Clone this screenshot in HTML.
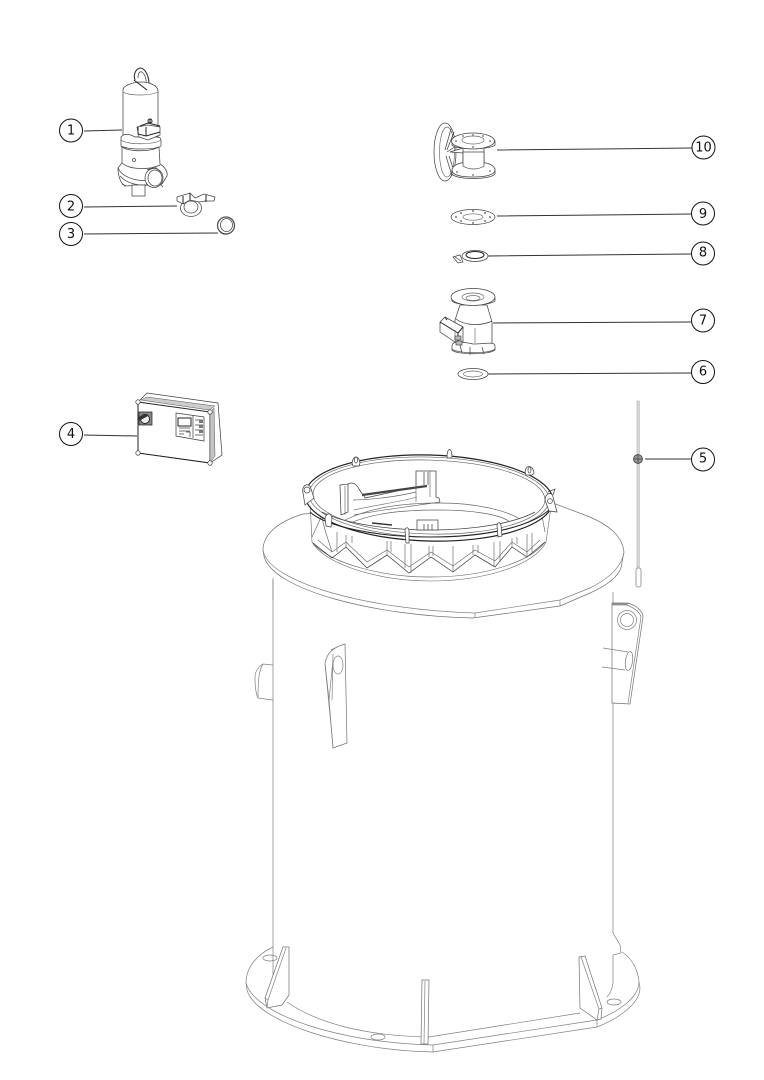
<!DOCTYPE html>
<html><head><meta charset="utf-8"><style>
html,body{margin:0;padding:0;background:#fff}
svg{display:block}
.t{fill:none;stroke:#808080;stroke-width:.7}
.w{fill:#fff;stroke:#707070;stroke-width:.7}
.m{fill:none;stroke:#444;stroke-width:.75}
.s{fill:none;stroke:#666;stroke-width:.65}
.mw{fill:#fff;stroke:#444;stroke-width:.75}
.d{fill:none;stroke:#222;stroke-width:1}
.l{fill:none;stroke:#333;stroke-width:1}
.c{fill:#fff;stroke:#111;stroke-width:1}
text{font-family:"DejaVu Sans",sans-serif;font-size:13px;fill:#111;text-anchor:middle}
</style></head><body>
<svg width="764" height="1080" viewBox="0 0 764 1080" xmlns="http://www.w3.org/2000/svg">
<!-- base plate -->
<path class="t" d="M273 947C256 955 246 968 246 983L247 990C255 1020 340 1050 433 1052L597 1027C620 1018 640 1003 640 988L639 982C638 970 632 958 622 952"/>
<path class="t" d="M246 983C255 1015 340 1043 433 1045L597 1020C620 1011 639 997 639 982"/>
<path class="t" d="M287 1002C320 1025 370 1036 429 1037L580 1013"/>
<path class="t" d="M433 1045V1052M597 1020V1027"/>
<ellipse class="t" cx="270" cy="958" rx="7" ry="3"/>
<ellipse class="t" cx="378" cy="1037" rx="7" ry="3"/>
<ellipse class="t" cx="614" cy="1002" rx="7" ry="3"/>
<!-- cylinder -->
<path class="t" d="M273 578V1002"/>
<path class="t" d="M613 592V933L620 945L621 953L613 955V983C612 990 610 994 607 997"/>
<!-- ribs -->
<path class="w" d="M283 947L289 947L289 995L282 1005L267 1008L265 998Z"/>
<path class="t" d="M286 948L268 1000L265 998M268 1000L267 1008"/>
<path class="w" d="M422 980H429L428 1044H421Z"/>
<path class="t" d="M425 981L424 1044"/>
<path class="w" d="M579 957L585 956L602 1008L601 1019L597 1020L580 1008Z"/>
<path class="t" d="M581 957L599 1009L597 1020M599 1009L602 1008"/>
<!-- top plate -->
<path class="w" d="M303 514C277 522 263 535 263 550L264 556C272 590 375 616 473 618L560 606L590 593C610 584 622 574 622 562L624 552C622 535 608 525 590 517L545 500L303 514Z"/>
<path class="t" d="M263 550C268 583 370 610 475 613L560 600L590 588C610 578 622 566 624 552"/>
<path class="t" d="M475 613V618M560 600V606"/>
<path class="t" d="M273 580V600"/>
<!-- ring skirt -->
<path fill="#fff" stroke="#666" stroke-width=".6" d="M310 500L312 542C325 565 380 581 430 581C485 581 535 565 546 542L552 500Z"/>
<path class="s" d="M313 543C330 563 380 577 430 577C485 577 530 562 545 542"/>
<path class="m" d="M313 543L332 558L346 547L367 568L387 555L409 573L431 557L453 572L475 555L495 567L512 547L527 557L545 542"/>
<path class="s" d="M318 540L332 552L346 542L367 562L387 550L409 567L431 552L453 566L475 550L495 561L512 542L527 552L540 540"/>
<path class="s" d="M337 532V552M346 535V547M352 536V543M387 541V555M391 541V552M405 544V568M411 544V573M429 546V557M433 546V556M453 546V572M473 545V555M478 545V553M494 542V567M500 541V562M512 538V547M517 537V544M527 534V557M532 533V552"/>
<path class="s" d="M320 510L325 530L332 552M322 515L312 537M540 505L545 532"/>
<!-- ring -->
<ellipse fill="#fff" stroke="#222" stroke-width="1.2" cx="429" cy="498" rx="124" ry="43" transform="rotate(1.5 429 498)"/>
<ellipse class="s" cx="429" cy="497" rx="120" ry="40" transform="rotate(1.5 429 497)"/>
<ellipse class="s" cx="429" cy="497" rx="116" ry="37" transform="rotate(1.5 429 497)"/>
<path class="d" d="M310 512C325 526 375 537 430 537C485 537 530 527 549 510" />
<path class="m" d="M322 512C345 524 390 530 430 530C475 530 515 523 535 512"/>
<!-- inner bracket -->
<path class="mw" d="M340 485L348 484L348 512L341 515Z"/>
<path class="m" d="M348 484C352 482 356 483 359 489C362 494 365 497 365 498L416 487V471H436V497L439 498L440 502"/>
<path class="s" d="M345 486V515M353 500C372 500 400 496 416 492M354 510C375 505 400 502 417 497M354 515C380 510 420 505 440 502"/>
<path fill="none" stroke="#444" stroke-width="2.2" d="M362 495L427 486"/>
<path class="m" d="M424 472V485M428 472V485"/>
<path class="s" d="M416 471V502M430 471V497"/>
<path class="s" d="M345 520C370 508 400 503 440 503C475 503 505 510 520 519M350 523C375 513 400 510 440 510C470 510 500 514 510 522"/>
<path class="mw" d="M417 520H438V530H417Z"/>
<path class="m" d="M424 524V530M428 524V530M432 524V530"/>
<path fill="none" stroke="#333" stroke-width="1.4" d="M372 523L392 525"/>
<!-- ring lugs -->
<path class="mw" d="M303 493C301 484 310 482 311 489L314 498L305 505Z"/>
<circle class="m" cx="307" cy="490" r="3"/>
<path class="mw" d="M352 463C353 455 359 455 360 463L359 466H353Z"/>
<ellipse class="m" cx="356" cy="460" rx="1.500" ry="3"/>
<path class="mw" d="M447 457C447 447 452 447 452 457L451 458H448Z"/>
<path class="mw" d="M525 472C526 464 533 465 534 473L532 475H526Z"/>
<ellipse class="m" cx="529.500" cy="470" rx="1.500" ry="3"/>
<path class="mw" d="M545 500C545 493 552 491 553 497L557 512L549 511Z"/>
<circle class="m" cx="550" cy="501" r="2.4"/>
<path class="m" d="M548 492L555 489L553 495"/>
<path class="mw" d="M325 518C327 512 331 513 332 518L331 527L326 526Z"/>
<path class="mw" d="M405 530C406 527 408 527 409 530L409 543H406Z"/>
<path class="mw" d="M497 525C498 522 500 522 501 525L502 536L498 537Z"/>
<!-- plate lug left -->
<path class="w" d="M325 663C327 654 331 648 345 644L347 743L333 748L329 700Z"/>
<path class="t" d="M333 746L325 664M331 650L335 648M333 660L329 700M333 654L332 700"/>
<ellipse class="t" cx="338" cy="665" rx="5" ry="9"/>
<path class="t" d="M273 665L263 664C258 667 255 672 255 677C255 686 256 694 258 698L273 700"/>
<path class="t" d="M263 664C259 670 258 680 258 698"/>
<!-- plate lug right -->
<path class="w" d="M612 603H627C637 605 643 612 643 617L630 704L612 703Z"/>
<path class="t" d="M612 605H627C634 608 640 612 641 617L628 703"/>
<path fill="none" stroke="#888" stroke-width="1.2" d="M612 604H628"/>
<circle class="t" cx="627" cy="620" r="9.5"/>
<circle class="t" cx="627" cy="620" r="6.5"/>
<path class="t" d="M603 648L628 652M602 667L625 670"/>
<ellipse class="w" cx="629" cy="661" rx="3.6" ry="9.5" transform="rotate(8 629 661)"/>
<!-- item 5 probe -->
<rect x="637" y="401" width="2.2" height="166" fill="#ddd" stroke="#999" stroke-width=".5"/>
<rect x="636" y="568" width="5" height="19" rx="2" fill="#fff" stroke="#777" stroke-width=".7"/>
<circle cx="638" cy="459" r="4.4" fill="#999" stroke="#333" stroke-width=".8"/>
<path class="m" d="M633 459H643M638 455V463"/>
<!-- item 1 pump -->
<path fill="none" stroke="#333" stroke-width="1.1" d="M135 80C133 74 136 69 140 68C145 68 150 76 149 89"/>
<path class="m" d="M138 78C138 73 140 71 142 72C145 74 147 80 146 87"/>
<path class="mw" d="M123 90C123 85 135 82 141 82C148 82 158 85 158 91V137H123Z"/>
<path class="s" d="M123 92C130 96 150 96 158 92"/>
<path class="d" d="M134 80L147 90"/>
<path class="mw" d="M121 137C124 133 130 134 135 137H156C160 137 161 138 161 141V146C155 150 128 150 121 146Z"/>
<path class="s" d="M121 140C128 145 153 145 161 140"/>
<path class="mw" d="M122 147C130 152 150 152 159 147L160 164C165 167 168 172 167 176L162 184L125 186C120 183 118 175 118 168L122 163Z"/>
<path class="m" d="M118 168C123 180 145 182 150 180M120 176C127 184 140 186 148 185M122 163C130 170 150 170 160 165"/>
<rect class="mw" x="132" y="185" width="13" height="11"/>
<path class="mw" d="M137 127L148 125L160 127L160 135L148 140L139 137Z"/>
<path class="d" d="M138 127V134L146 136L160 132M146 127V136M140 126L148 123L160 126"/>
<path class="d" d="M150 119V124"/>
<circle class="d" cx="150" cy="121" r="2"/>
<ellipse class="mw" cx="154" cy="178" rx="9" ry="9.500"/>
<ellipse class="m" cx="155" cy="178" rx="7" ry="8"/>
<path class="m" d="M147 170L155 167L161 172M122 184L126 186M160 184L163 187"/>
<circle class="m" cx="134" cy="160" r="1.5"/>
<!-- item 2 -->
<ellipse class="m" cx="191" cy="208" rx="10.500" ry="8.500"/>
<ellipse class="m" cx="191" cy="207" rx="7" ry="6"/>
<path class="mw" d="M177 197L190 193L195 198L204 194L215 197L214 201L205 201L199 202L190 200L183 204L177 201Z"/>
<path class="d" d="M183 196V204M206 195V202M190 193V200"/>
<!-- item 3 -->
<circle cx="226" cy="225.500" r="8.500" fill="#fff" stroke="#555" stroke-width="1.3"/>
<ellipse class="m" cx="226.500" cy="225" rx="6" ry="6.500"/>
<path class="m" d="M219 230C220 233 224 235 227 234"/>
<!-- item 4 box -->
<path class="mw" d="M138 402L147 393L218 403L222 455L210 463L138 453Z"/>
<path class="d" d="M138 402L210 412L210 463L138 453Z"/>
<path fill="#ccc" stroke="#555" stroke-width=".5" d="M141 400L147 397L215 406L209 410Z"/>
<path fill="#c4c4c4" stroke="#555" stroke-width=".5" d="M210 412L214 408L215 456L210 463Z"/>
<circle class="mw" cx="138" cy="402" r="2.200"/><circle class="mw" cx="210" cy="412" r="2.200"/><circle class="mw" cx="138" cy="453" r="2.200"/><circle class="mw" cx="210" cy="463" r="2.200"/>
<path fill="#888" stroke="#222" stroke-width=".7" d="M139 412H152V425H139Z"/>
<circle cx="145" cy="419" r="4.500" fill="#eee" stroke="#222" stroke-width=".9"/>
<path fill="#333" d="M138 417L147 414L148 416L139 421Z"/>
<path class="m" d="M176 413L204 417L204 441L176 436Z"/>
<rect x="178" y="418" width="13" height="8" fill="#fff" stroke="#222" stroke-width="1"/>
<path class="m" d="M193 415V438M195 420H203M195 425H203M195 430H203M195 435H203"/>
<path fill="#777" d="M199 420h4v3h-4zM199 425h4v3h-4zM199 430h4v3h-4z"/>
<path class="m" d="M179 428h11M179 431h11M179 434h5M186 432h4v5"/>
<!-- item 10 -->
<ellipse class="mw" cx="445" cy="152" rx="11" ry="29"/>
<ellipse class="s" cx="447" cy="152" rx="7.500" ry="25"/>
<path class="m" d="M451 129L445 150M454 132L447 150M447 152L456 146M449 156L455 174M446 156L452 176"/>
<path class="mw" d="M463 153L450 152L463 148L470 146V163L463 160Z"/>
<path class="mw" d="M463 145H484V170H463Z"/>
<path class="s" d="M463 158C470 161 478 161 484 158"/>
<path class="mw" d="M452 141V145C456 150 490 150 495 145V141Z"/>
<ellipse class="mw" cx="473" cy="141" rx="21.500" ry="8"/>
<ellipse class="s" cx="473" cy="140" rx="11" ry="4"/>
<path class="mw" d="M452 170V174C456 180 490 180 495 174V170Z"/>
<path fill="#fff" stroke="#444" stroke-width=".75" d="M452 170C452 165 462 162 463 163C470 168 478 168 484 163C485 162 495 165 495 170C495 175 485 177 473 177C461 177 452 175 452 170Z"/>
<path class="mw" d="M463 152H484V166C478 170 469 170 463 166Z"/>
<g fill="#888"><circle cx="456" cy="141" r="1"/><circle cx="490" cy="141" r="1"/><circle cx="473" cy="135" r="1"/><circle cx="473" cy="147" r="1"/><circle cx="463" cy="136" r="1"/><circle cx="483" cy="136" r="1"/><circle cx="457" cy="172" r="1"/><circle cx="490" cy="171" r="1"/><circle cx="473" cy="175" r="1"/></g>
<!-- item 9 -->
<ellipse class="mw" cx="473" cy="217" rx="22" ry="7.500"/>
<ellipse class="s" cx="473" cy="217" rx="10" ry="3.200"/>
<g fill="#777"><circle cx="456" cy="217" r="1"/><circle cx="490" cy="217" r="1"/><circle cx="473" cy="211" r="1"/><circle cx="473" cy="223" r="1"/><circle cx="461" cy="213" r="1"/><circle cx="485" cy="213" r="1"/><circle cx="461" cy="221" r="1"/><circle cx="485" cy="221" r="1"/></g>
<!-- item 8 -->
<ellipse class="mw" cx="475" cy="256" rx="13" ry="5.500"/>
<ellipse class="d" cx="475" cy="255" rx="9" ry="3.500"/>
<path class="m" d="M453 257L460 255L463 262L458 263ZM455 257L461 261"/>
<!-- item 7 -->
<path class="mw" d="M460 305L455 320L455 345H492V322L487 305Z"/>
<path class="m" d="M456 319C465 326 482 326 492 321"/>
<path class="s" d="M475 328V343"/>
<path class="mw" d="M452 298V301C456 306 490 306 495 301V298Z"/>
<ellipse class="mw" cx="473" cy="297" rx="22" ry="8.500"/>
<ellipse class="s" cx="473" cy="297" rx="11" ry="4"/>
<ellipse class="s" cx="473" cy="298" rx="7" ry="2.500"/>
<path class="mw" d="M452 346C452 341 460 341 473 344C485 344 495 341 495 346V350C490 355 456 355 452 350Z"/>
<path class="m" d="M452 349C458 354 490 354 495 349M460 345L462 353M470 347V355M482 347L484 354"/>
<path class="mw" d="M440 322L445 317L463 327V342L458 344L440 332Z"/>
<path class="d" d="M440 322L458 333L463 327M458 333V344M445 317L447 320"/>
<path class="s" d="M455 330V342"/>
<rect x="455" y="336" width="6" height="4" fill="#bbb" stroke="#333" stroke-width=".6"/>
<rect x="456" y="341" width="6" height="4" fill="#bbb" stroke="#333" stroke-width=".6"/>
<!-- item 6 -->
<ellipse class="mw" cx="473" cy="374" rx="15" ry="5.500"/>
<ellipse class="s" cx="473" cy="374" rx="9.500" ry="3"/>
<!-- leaders -->
<path class="l" d="M84 131L122 130M84 207L177 206M84 234L218 233M84 435L137 436M497 150L692 148M497 216L692 214M488 256L691 254M493 323L691 322M488 374L691 373M645 459H691"/>
<!-- callouts -->
<circle class="c" cx="71" cy="130.500" r="11.500"/><text x="71" y="134.500">1</text>
<circle class="c" cx="71" cy="206" r="11.500"/><text x="71" y="210.500">2</text>
<circle class="c" cx="71" cy="234" r="11.500"/><text x="71" y="238">3</text>
<circle class="c" cx="71" cy="434" r="11.500"/><text x="71" y="438">4</text>
<circle class="c" cx="703" cy="459.500" r="11.500"/><text x="703" y="462.500">5</text>
<circle class="c" cx="703" cy="372" r="11.500"/><text x="703" y="375.500">6</text>
<circle class="c" cx="703" cy="320.500" r="11.500"/><text x="703" y="324.500">7</text>
<circle class="c" cx="703" cy="253.500" r="11.500"/><text x="703" y="256.500">8</text>
<circle class="c" cx="703" cy="213.500" r="11.500"/><text x="703" y="218">9</text>
<circle class="c" cx="703.500" cy="147.500" r="11.500"/><text x="703.500" y="151.500">10</text>
</svg>
</body></html>
